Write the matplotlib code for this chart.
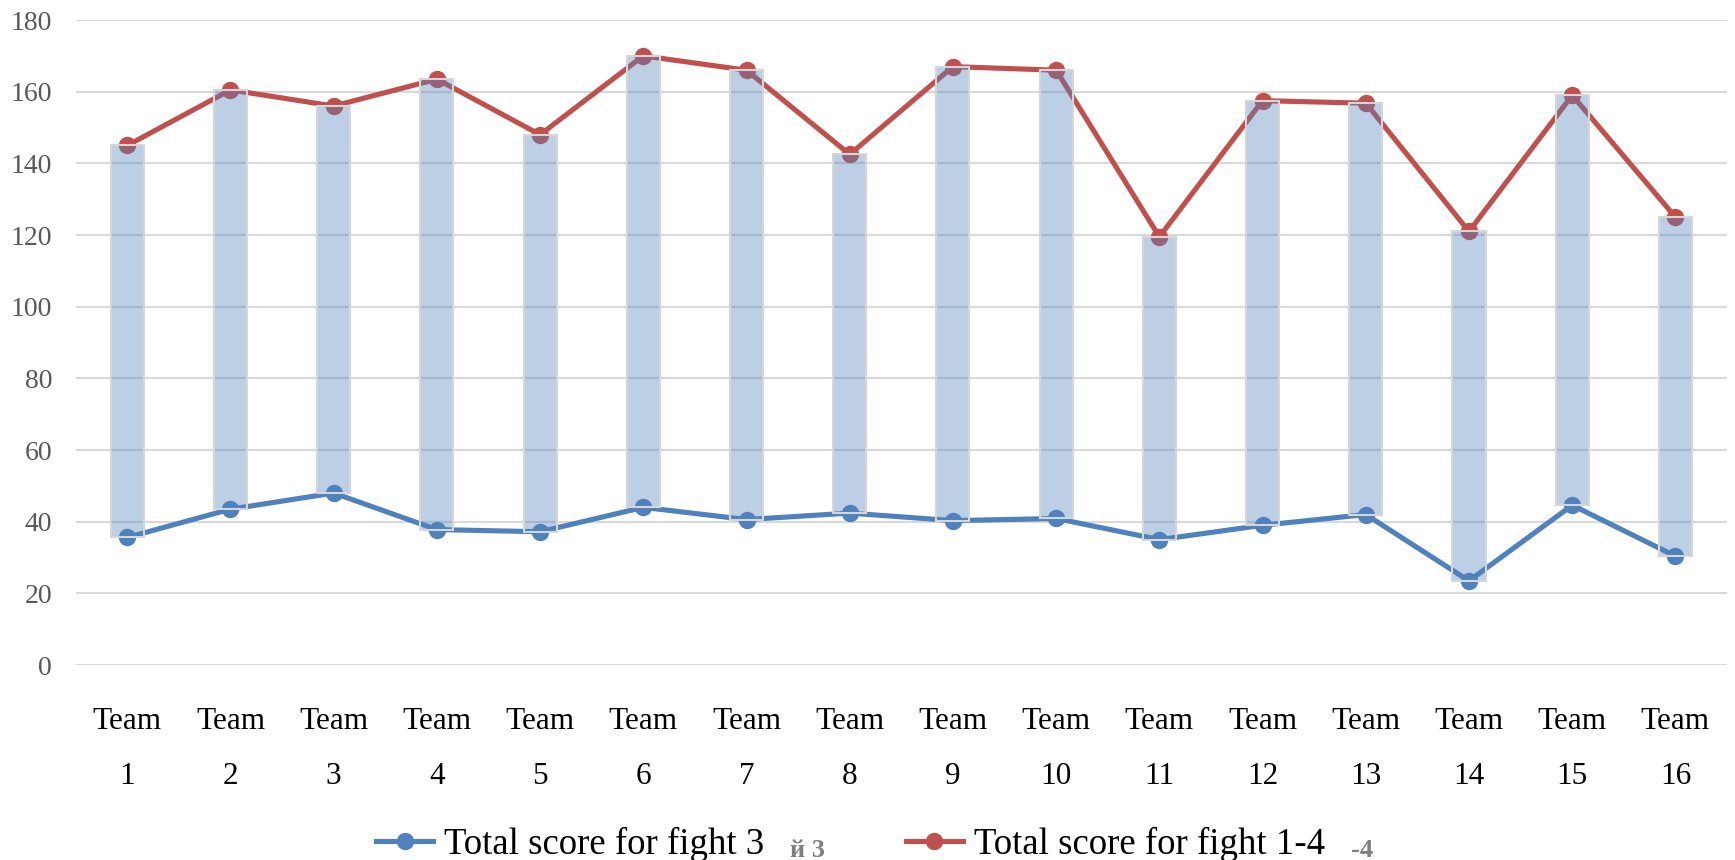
import matplotlib
matplotlib.use("Agg")
import matplotlib.pyplot as plt
import numpy as np

teams = [f"Team\n{i}" for i in range(1, 17)]
fight3 = [35.6, 43.5, 48.0, 37.8, 37.2, 44.0, 40.6, 42.4, 40.3, 40.9, 35.0, 39.0, 42.0, 23.5, 44.6, 30.4]
fight14 = [145.0, 160.5, 156.0, 163.5, 148.0, 170.0, 166.0, 142.5, 167.0, 166.0, 119.5, 157.5, 156.8, 121.0, 159.0, 125.0]
yticks = [0, 20, 40, 60, 80, 100, 120, 140, 160, 180]
label3 = "Total score for fight 3"
label14 = "Total score for fight 1-4"
extra3 = "й 3"
extra14 = "-4"

plt.rcParams['font.family'] = ['Liberation Serif', 'DejaVu Serif']

fig = plt.figure(figsize=(17.35, 8.6), dpi=100)
ax = fig.add_axes([0.0436, 0.2267, 0.9518, 0.75])

x = np.arange(len(teams))
blue = '#4F81BD'
red = '#C0504D'

ax.plot(x, fight3, color=blue, lw=3.7, marker='o', ms=11.5, zorder=3, label=label3)
ax.plot(x, fight14, color=red, lw=3.7, marker='o', ms=11.5, zorder=3, label=label14)

low = np.array(fight3)
high = np.array(fight14)
ax.bar(x, high - low, bottom=low, width=0.32,
       facecolor=(79/255, 129/255, 189/255, 0.38), edgecolor='#D6D6D6', lw=1.5, zorder=4)

ax.set_xlim(-0.5, len(teams) - 0.5)
ax.set_ylim(0, 180)
ax.set_yticks(yticks)
ax.set_yticklabels([str(v) for v in yticks], color='#595959', fontsize=20)
ax.set_xticks(x)
ax.set_xticklabels(teams, fontsize=22.5, color='black', linespacing=2.2)
ax.tick_params(axis='both', length=0)
ax.tick_params(axis='y', pad=17)
ax.tick_params(axis='x', pad=30)
ax.grid(axis='y', color='#D9D9D9', lw=1.5, zorder=0)
ax.set_axisbelow(True)
for s in ax.spines.values():
    s.set_visible(False)

leg = fig.legend(loc='center left', bbox_to_anchor=(376 / 1735, 16 / 860), ncol=2, frameon=False,
                 fontsize=26.5, handlelength=1.55, handletextpad=0.3, columnspacing=3.85,
                 borderpad=0, borderaxespad=0)

fig.canvas.draw()
r = fig.canvas.get_renderer()
texts = leg.get_texts()
for t, extra in zip(texts, [extra3, extra14]):
    bb = t.get_window_extent(r)
    fx = (bb.x1 + 26) / fig.bbox.width
    fy = (bb.y0 + bb.y1) / 2 / fig.bbox.height
    fig.text(fx, fy - 0.007, extra, fontsize=19, fontweight='bold', color='#7F7F7F',
             ha='left', va='center')

fig.savefig('out.png', dpi=100)
